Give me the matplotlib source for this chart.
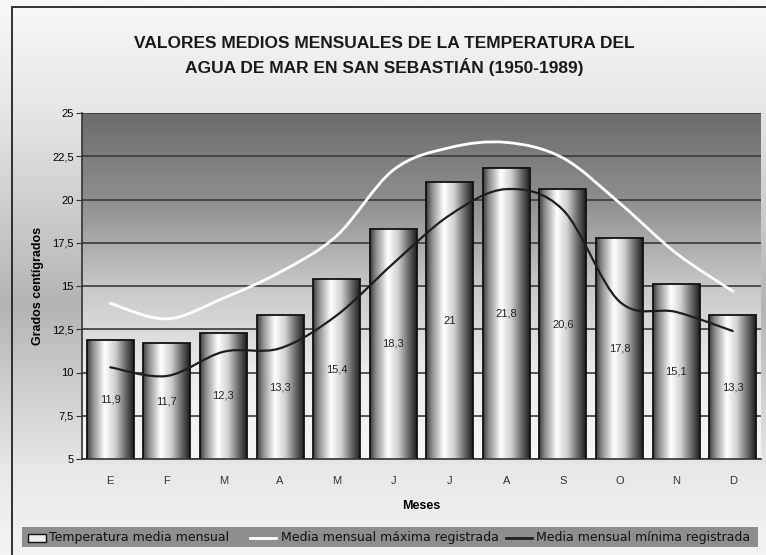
import numpy as np
import matplotlib
matplotlib.use("Agg")
import matplotlib.pyplot as plt
from matplotlib.colors import LinearSegmentedColormap
from matplotlib.patches import Rectangle, PathPatch
from matplotlib.path import Path
from matplotlib.lines import Line2D

plt.rcParams['font.family'] = ['Liberation Sans', 'DejaVu Sans']

# data
meses = ["E", "F", "M", "A", "M", "J", "J", "A", "S", "O", "N", "D"]
temp_media = [11.9, 11.7, 12.3, 13.3, 15.4, 18.3, 21.0, 21.8, 20.6, 17.8, 15.1, 13.3]
temp_max = [14.0, 13.1, 14.3, 15.8, 17.9, 21.7, 23.0, 23.3, 22.4, 19.8, 16.9, 14.7]
temp_min = [10.3, 9.8, 11.2, 11.4, 13.3, 16.3, 19.1, 20.6, 19.4, 14.1, 13.5, 12.4]
y_ticks = [5, 7.5, 10, 12.5, 15, 17.5, 20, 22.5, 25]
y_labels = ["5", "7,5", "10", "12,5", "15", "17,5", "20", "22,5", "25"]

W, H = 766, 555


def smooth_path(xs, ys):
    # excel style smoothed line: cubic bezier through every point
    pts = np.column_stack([xs, ys]).astype(float)
    n = len(pts)
    verts = [pts[0]]
    codes = [Path.MOVETO]
    for i in range(n - 1):
        p0 = pts[max(i - 1, 0)]
        p1 = pts[i]
        p2 = pts[i + 1]
        p3 = pts[min(i + 2, n - 1)]
        verts += [p1 + (p2 - p0) / 6, p2 - (p3 - p1) / 6, p2]
        codes += [Path.CURVE4] * 3
    return Path(verts, codes)


fig = plt.figure(figsize=(W / 100, H / 100), dpi=100)

# figure background
bg = fig.add_axes([0, 0, 1, 1], zorder=-10)
bg_cmap = LinearSegmentedColormap.from_list(
    "bg", [(0, "#f8f8f8"), (0.2, "#e6e6e6"), (0.55, "#b4b4b4"), (0.85, "#e8e8e8"), (1, "#f4f4f4")])
bg.imshow(np.linspace(0, 1, 256).reshape(-1, 1), cmap=bg_cmap, aspect="auto",
          extent=[0, 1, 0, 1], origin="upper")
bg.set_xlim(0, 1)
bg.set_ylim(0, 1)
bg.axis("off")
bg.add_patch(Rectangle((12 / W, -0.1), 1.2, 1 - 7 / H + 0.1, fill=False,
                       edgecolor="#222222", linewidth=1.3))

ax = fig.add_axes([82 / W, 1 - 459 / H, (761 - 82) / W, (459 - 113) / H])
x = np.arange(len(meses))
ax.set_xlim(-0.5, len(meses) - 0.5)
ax.set_ylim(5, 25)

# plot area gradient
pa_cmap = LinearSegmentedColormap.from_list(
    "pa", [(0, "#f6f6f6"), (0.25, "#ececec"), (0.5, "#c8c8c8"), (0.75, "#8e8e8e"), (1, "#6c6c6c")])
ax.imshow(np.linspace(0, 1, 256).reshape(-1, 1), cmap=pa_cmap, aspect="auto",
          extent=[-0.5, len(meses) - 0.5, 5, 25], origin="lower", zorder=0)
ax.hlines(y_ticks, -0.5, len(meses) - 0.5, colors="#3a3a3a", linewidth=1.2, zorder=1)

# cylinder bars
bar_cmap = LinearSegmentedColormap.from_list(
    "bar", [(0, "#3a3a3a"), (0.12, "#8a8a8a"), (0.38, "#ffffff"), (0.6, "#d0d0d0"),
            (0.82, "#6a6a6a"), (1, "#1e1e1e")])
bars = ax.bar(x, temp_media, width=0.83, facecolor="none", edgecolor="#111111",
              linewidth=1.3, zorder=3)
grad = np.linspace(0, 1, 256).reshape(1, -1)
for b in bars:
    im = ax.imshow(grad, cmap=bar_cmap, aspect="auto", zorder=2,
                   extent=[b.get_x(), b.get_x() + b.get_width(), 5, b.get_height()])
    im.set_clip_path(b)

for xi, v in zip(x, temp_media):
    ax.text(xi, (5 + v) / 2, ("%g" % v).replace(".", ","), ha="center", va="center",
            fontsize=8, color="#222222", zorder=5)

ax.add_patch(PathPatch(smooth_path(x, temp_max), fill=False, edgecolor="white",
                       linewidth=2.0, zorder=4, capstyle="round"))
ax.add_patch(PathPatch(smooth_path(x, temp_min), fill=False, edgecolor="#1e1e1e",
                       linewidth=1.6, zorder=4, capstyle="round"))

ax.set_yticks(y_ticks)
ax.set_yticklabels(y_labels, fontsize=8)
ax.set_xticks(x)
ax.set_xticklabels(meses, fontsize=8, color="#333333")
ax.tick_params(axis="x", length=0, pad=12)
ax.tick_params(axis="y", length=4, color="#333333", pad=2)
for s in ["top", "right"]:
    ax.spines[s].set_visible(False)
ax.spines["left"].set_color("#333333")
ax.spines["bottom"].set_color("#333333")
ax.spines["left"].set_linewidth(1.2)
ax.spines["bottom"].set_linewidth(1.2)

ax.set_ylabel("Grados centígrados", fontsize=9, fontweight="bold", labelpad=6)
ax.set_xlabel("Meses", fontsize=9, fontweight="bold", labelpad=10)

fig.text(384 / W, 1 - 56 / H,
         "VALORES MEDIOS MENSUALES DE LA TEMPERATURA DEL\nAGUA DE MAR EN SAN SEBASTIÁN (1950-1989)",
         ha="center", va="center", fontsize=12.5, fontweight="bold", linespacing=1.5,
         color="#1a1a1a")

# legend band at the bottom
ly = 1 - 538 / H
bg.add_patch(Rectangle((22 / W, 1 - 547 / H), (758 - 22) / W, 20 / H,
                       facecolor="#8e8e8e", edgecolor="none"))
bg.add_patch(Rectangle((28 / W, 1 - 542 / H), 18 / W, 8 / H,
                       facecolor="#eeeeee", edgecolor="#111111", linewidth=1.0))
fig.text(49 / W, ly, "Temperatura media mensual", ha="left", va="center",
         fontsize=9, family="DejaVu Sans", color="#111111")
bg.add_line(Line2D([250 / W, 276 / W], [ly, ly], color="white", linewidth=2.0))
fig.text(281 / W, ly, "Media mensual máxima registrada", ha="left", va="center",
         fontsize=9, family="DejaVu Sans", color="#111111")
bg.add_line(Line2D([506 / W, 532 / W], [ly, ly], color="#1e1e1e", linewidth=2.0))
fig.text(536 / W, ly, "Media mensual mínima registrada", ha="left", va="center",
         fontsize=9, family="DejaVu Sans", color="#111111")

fig.savefig("out.png", dpi=100)
